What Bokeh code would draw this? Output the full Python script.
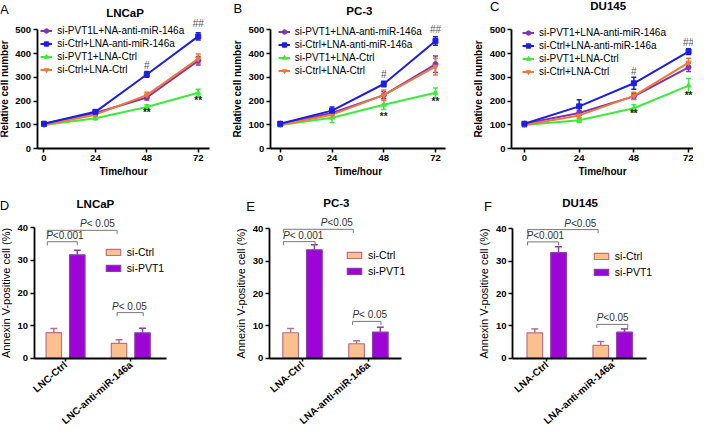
from bokeh.plotting import figure
from bokeh.layouts import row, column
from bokeh.models import (ColumnDataSource, Whisker, TeeHead, Label, Legend,
                          LegendItem, FixedTicker, Range1d)
from bokeh.embed import file_html
from bokeh.resources import INLINE

FONT = "Liberation Sans"

# ---------------- data: growth curves ----------------
hours = [0, 24, 48, 72]
hour_ticks = [0, 24, 48, 72]
cell_ticks = [0, 100, 200, 300, 400, 500]

labels_A = ["si-PVT1L+NA-anti-miR-146a", "si-Ctrl+LNA-anti-miR-146a",
            "si-PVT1+LNA-Ctrl", "si-Ctrl+LNA-Ctrl"]
labels_BC = ["si-PVT1+LNA-anti-miR-146a", "si-Ctrl+LNA-anti-miR-146a",
             "si-PVT1+LNA-Ctrl", "si-Ctrl+LNA-Ctrl"]

A_purple = [105, 150, 215, 370]
A_purple_err = [8, 10, 10, 18]
A_blue = [105, 155, 312, 472]
A_blue_err = [8, 8, 12, 15]
A_green = [100, 128, 175, 235]
A_green_err = [6, 6, 10, 15]
A_orange = [100, 143, 225, 378]
A_orange_err = [6, 8, 12, 20]
A_sig_x = [72, 48, 48, 72]
A_sig_y = [528, 350, 154, 201]
A_sig_text = ["##", "#", "**", "**"]

B_purple = [105, 150, 225, 355]
B_purple_err = [8, 10, 15, 35]
B_blue = [105, 160, 272, 453]
B_blue_err = [8, 15, 12, 18]
B_green = [100, 130, 185, 235]
B_green_err = [6, 20, 20, 20]
B_orange = [100, 143, 225, 345]
B_orange_err = [8, 12, 22, 35]
B_sig_x = [72, 48, 48, 72]
B_sig_y = [499, 310, 135, 200]
B_sig_text = ["##", "#", "**", "**"]

C_purple = [105, 150, 220, 342]
C_purple_err = [8, 10, 12, 18]
C_blue = [105, 178, 275, 408]
C_blue_err = [8, 28, 25, 12]
C_green = [100, 120, 170, 265]
C_green_err = [8, 10, 15, 30]
C_orange = [100, 140, 222, 362]
C_orange_err = [8, 12, 15, 18]
C_sig_x = [72, 48, 48, 72]
C_sig_y = [448, 325, 147, 222]
C_sig_text = ["##", "#", "**", "**"]

# ---------------- data: apoptosis bars ----------------
groups_D = ["LNC-Ctrl", "LNC-anti-miR-146a"]
groups_EF = ["LNA-Ctrl", "LNA-anti-miR-146a"]
bar_legend = ["si-Ctrl", "si-PVT1"]
pct_ticks = [0, 10, 20, 30, 40]

D_ctrl = [7.9, 4.6]
D_ctrl_err = [1.2, 1.1]
D_pvt1 = [31.7, 7.8]
D_pvt1_err = [1.4, 1.4]
D_br_x0 = [0.72, 0.72, 1.79]
D_br_x1 = [1.79, 1.18, 2.19]
D_br_y = [39.2, 35.7, 14.0]
D_p_x = [1.51, 0.99, 2.00]
D_p_text = [" < 0.05", "<0.001", " < 0.05"]

E_ctrl = [7.9, 4.5]
E_ctrl_err = [1.3, 0.9]
E_pvt1 = [33.5, 8.1]
E_pvt1_err = [1.5, 1.5]
E_br_x0 = [0.71, 0.71, 1.76]
E_br_x1 = [1.77, 1.19, 2.19]
E_br_y = [39.8, 36.0, 11.4]
E_p_x = [1.52, 1.01, 2.02]
E_p_text = ["<0.05", "< 0.001", "< 0.05"]

F_ctrl = [7.9, 4.0]
F_ctrl_err = [1.2, 1.2]
F_pvt1 = [32.7, 8.1]
F_pvt1_err = [1.8, 1.0]
F_br_x0 = [0.71, 0.71, 1.76]
F_br_x1 = [1.78, 1.18, 2.23]
F_br_y = [39.8, 36.0, 10.5]
F_p_x = [1.51, 0.98, 2.00]
F_p_text = ["<0.05", "<0.001", "<0.05"]

# ---------------- styles / layout ----------------
line_colors = ["#8433B2", "#1E1EE0", "#3DEB3D", "#F07838"]
markers = ["circle", "square", "triangle", "inverted_triangle"]
ctrl_fill, ctrl_line = "#FAC08E", "#B8708C"
pvt_fill, pvt_line = "#9C05D6", "#8A40A8"
CHAR_W = {"<": 5.84, "0": 5.56, ".": 2.78, "5": 5.56, "1": 5.56, " ": 2.78}

# page geometry: reference-picture pixels are mapped onto the 693x430 area
SX, SY = 693 / 701, 430 / 441
RX0, RY0 = 2, 4
COL_OFF = [0, 231, 464]
COL_W = [231, 233, 229]
ROW_OFF = [0, 188]
ROW_H = [188, 242]


def lx(rx, col):
    return (rx - RX0) * SX - COL_OFF[col]


def ly(ry, r):
    return (ry - RY0) * SY - ROW_OFF[r]


def frame_range(d0, p0, d1, p1, size):
    s = (p1 - p0) / (d1 - d0)
    return Range1d(d0 - p0 / s, d0 + (size - p0) / s)


def inv(p0, d0, p1, d1, px):
    s = (p1 - p0) / (d1 - d0)
    return d0 + (px - p0) / s


def base_fig(Wd, H, xr, yr):
    p = figure(width=Wd, height=H, output_backend="svg", toolbar_location=None,
               x_range=xr, y_range=yr, min_border=0, min_border_left=0,
               min_border_right=0, min_border_top=0, min_border_bottom=0)
    p.title.visible = False
    p.grid.visible = False
    p.outline_line_color = None
    p.background_fill_color = "white"
    p.border_fill_color = "white"
    for ax in (p.xaxis[0], p.yaxis[0]):
        ax.axis_line_width = 1.8
        ax.axis_line_color = "black"
        ax.major_tick_line_width = 1.5
        ax.major_tick_line_color = "black"
        ax.major_tick_in = 0
        ax.major_tick_out = 4
        ax.minor_tick_line_color = None
        ax.major_label_text_font = FONT
        ax.major_label_text_font_style = "bold"
        ax.major_label_text_font_size = "9.5px"
        ax.major_label_text_color = "black"
        ax.major_label_standoff = 2
        ax.axis_label_text_font = FONT
        ax.axis_label_standoff = 3
        ax.axis_label_text_color = "black"
    return p


def add_text(p, H, text, x, y, size, style, color="black"):
    p.add_layout(Label(x=x, y=H - y, x_units="screen", y_units="screen", text=text,
                       text_font=FONT, text_font_size=size, text_font_style=style,
                       text_color=color, text_align="center", text_baseline="middle"))


def line_panel(col, title, title_ref, letter, letter_ref, series, errs, labels,
               sig, geo, leg_ref):
    Wd, H = COL_W[col], ROW_H[0]
    x0r, x72r, yaxr, xendr = geo
    x0p, x72p = lx(x0r, col), lx(x72r, col)
    y0p, y500p = ly(156, 0), ly(34, 0)
    xr = frame_range(0, x0p, 72, x72p, Wd)
    yr = frame_range(0, H - y0p, 500, H - y500p, H)
    p = base_fig(Wd, H, xr, yr)
    xax = inv(x0p, 0, x72p, 72, lx(yaxr, col))
    xend = inv(x0p, 0, x72p, 72, lx(xendr, col))
    p.yaxis.fixed_location = xax
    p.xaxis.fixed_location = 0
    p.yaxis.bounds = (0, 500)
    p.xaxis.bounds = (xax, xend)
    p.xaxis.ticker = FixedTicker(ticks=hour_ticks)
    p.yaxis.ticker = FixedTicker(ticks=cell_ticks)
    p.xaxis.axis_label = "Time/hour"
    p.yaxis.axis_label = "Relative cell number"
    p.xaxis.axis_label_text_font_style = "bold"
    p.yaxis.axis_label_text_font_style = "bold"
    p.xaxis.axis_label_text_font_size = "10px"
    p.yaxis.axis_label_text_font_size = "10px"
    p.xaxis.axis_label_standoff = 2

    items = [None] * 4
    for i in [0, 2, 3, 1]:
        vals, err = series[i], errs[i]
        src = ColumnDataSource(dict(x=hours, y=vals,
                                    lo=[v - e for v, e in zip(vals, err)],
                                    hi=[v + e for v, e in zip(vals, err)]))
        c = line_colors[i]
        p.add_layout(Whisker(source=src, base="x", upper="hi", lower="lo",
                             line_color=c, line_width=1.5,
                             upper_head=TeeHead(size=5, line_color=c, line_width=1.5),
                             lower_head=TeeHead(size=5, line_color=c, line_width=1.5)))
        lr = p.line("x", "y", source=src, line_color=c, line_width=2)
        sr = p.scatter("x", "y", source=src, marker=markers[i], size=5,
                       fill_color=c, line_color=c)
        items[i] = LegendItem(label=labels[i], renderers=[lr, sr])
    gx, r1 = lx(leg_ref[0], col), ly(leg_ref[1], 0)
    leg_h = 4 * 11 + 3 * 2
    leg = Legend(items=items, location=(gx, H - (r1 - 5.5 + leg_h)),
                 label_text_font=FONT, label_text_font_size="10px",
                 label_text_color="black", glyph_width=12, glyph_height=11,
                 label_height=11, spacing=2, padding=0, margin=0, label_standoff=5,
                 border_line_color=None, background_fill_alpha=0)
    p.add_layout(leg)
    sx, sy, st = sig
    for x, y, t in zip(sx, sy, st):
        p.add_layout(Label(x=x, y=y, text=t, text_font=FONT, text_font_size="10px",
                           text_color="#222" if t == "**" else "#555",
                           text_font_style="bold" if t == "**" else "normal",
                           text_align="center", text_baseline="middle"))
    add_text(p, H, title, lx(title_ref[0], col), ly(title_ref[1], 0), "11.5px", "bold")
    add_text(p, H, letter, lx(letter_ref[0], col), ly(letter_ref[1], 0), "13px",
             "normal")
    return p


def bar_panel(col, title, title_ref, letter, letter_ref, groups, ctrl, ctrl_err,
              pvt, pvt_err, br_x0, br_x1, br_y, p_x, p_text, geo, leg_ref):
    Wd, H = COL_W[col], ROW_H[1]
    g1r, g2r, yaxr, xendr, y0r, y40r = geo
    g1p, g2p = lx(g1r, col), lx(g2r, col)
    y0p, y40p = ly(y0r, 1), ly(y40r, 1)
    xr = frame_range(1, g1p, 2, g2p, Wd)
    yr = frame_range(0, H - y0p, 40, H - y40p, H)
    p = base_fig(Wd, H, xr, yr)
    xax = inv(g1p, 1, g2p, 2, lx(yaxr, col))
    xend = inv(g1p, 1, g2p, 2, lx(xendr, col))
    p.yaxis.fixed_location = xax
    p.xaxis.fixed_location = 0
    p.yaxis.bounds = (0, 40)
    p.xaxis.bounds = (xax, xend)
    p.xaxis.ticker = FixedTicker(ticks=[1, 2])
    p.xaxis.major_label_overrides = {1: groups[0], 2: groups[1]}
    p.xaxis.major_label_orientation = 0.7156
    p.xaxis.major_label_text_font_size = "10px"
    p.xaxis.major_tick_out = 3
    p.yaxis.ticker = FixedTicker(ticks=pct_ticks)
    p.yaxis.axis_label = "Annexin V-positive cell (%)"
    p.yaxis.axis_label_text_font_style = "normal"
    p.yaxis.axis_label_text_font_size = "11px"

    pos = [1, 2]
    src_c = ColumnDataSource(dict(x=[g - 0.18 for g in pos], top=ctrl,
                                  hi=[v + e for v, e in zip(ctrl, ctrl_err)]))
    src_p = ColumnDataSource(dict(x=[g + 0.18 for g in pos], top=pvt,
                                  hi=[v + e for v, e in zip(pvt, pvt_err)]))
    for src, lc in ((src_c, ctrl_line), (src_p, pvt_line)):
        p.add_layout(Whisker(source=src, base="x", upper="hi", lower="top",
                             line_color=lc, line_width=1.5,
                             upper_head=TeeHead(size=7, line_color=lc, line_width=1.5),
                             lower_head=None, level="underlay"))
    rc = p.vbar(x="x", top="top", width=0.237, source=src_c, fill_color=ctrl_fill,
                line_color=ctrl_line, line_width=1.2)
    rp = p.vbar(x="x", top="top", width=0.237, source=src_p, fill_color=pvt_fill,
                line_color=pvt_line, line_width=1.2)
    gx, r1 = lx(leg_ref[0], col), ly(leg_ref[1], 1)
    leg_h = 2 * 12 + 4
    leg = Legend(items=[LegendItem(label=bar_legend[0], renderers=[rc]),
                        LegendItem(label=bar_legend[1], renderers=[rp])],
                 location=(gx, H - (r1 - 6 + leg_h)), label_text_font=FONT,
                 label_text_font_size="10.5px", label_text_color="black",
                 glyph_width=18, glyph_height=8, label_height=12, spacing=4,
                 padding=0, margin=0, label_standoff=5, border_line_color=None,
                 background_fill_alpha=0)
    p.add_layout(leg)

    p.multi_line(xs=[[a, a, b, b] for a, b in zip(br_x0, br_x1)],
                 ys=[[y - 1.1, y, y, y - 1.1] for y in br_y],
                 line_color="#777777", line_width=1)
    for x, y, t in zip(p_x, br_y, p_text):
        w_rest = sum(CHAR_W.get(c, 5.56) for c in t)
        total = 6.67 + w_rest
        off = -total / 2 + 6.67
        p.add_layout(Label(x=x, y=y, x_offset=off, y_offset=1, text="P",
                           text_font=FONT, text_font_size="10px",
                           text_font_style="italic", text_color="#333",
                           text_align="right", text_baseline="bottom"))
        p.add_layout(Label(x=x, y=y, x_offset=off, y_offset=1, text=t,
                           text_font=FONT, text_font_size="10px",
                           text_color="#333", text_align="left",
                           text_baseline="bottom"))
    add_text(p, H, title, lx(title_ref[0], col), ly(title_ref[1], 1), "11.5px", "bold")
    add_text(p, H, letter, lx(letter_ref[0], col), ly(letter_ref[1], 1), "13px",
             "normal")
    return p


pA = line_panel(0, "LNCaP", (128, 16.7), "A", (6, 13),
                [A_purple, A_blue, A_green, A_orange],
                [A_purple_err, A_blue_err, A_green_err, A_orange_err],
                labels_A, (A_sig_x, A_sig_y, A_sig_text),
                (46, 202, 39, 213), (42.7, 35))
pB = line_panel(1, "PC-3", (365, 15), "B", (242, 12.7),
                [B_purple, B_blue, B_green, B_orange],
                [B_purple_err, B_blue_err, B_green_err, B_orange_err],
                labels_BC, (B_sig_x, B_sig_y, B_sig_text),
                (285, 442, 275, 452), (283, 36.7))
pC = line_panel(2, "DU145", (616.7, 9.8), "C", (502, 10.5),
                [C_purple, C_blue, C_green, C_orange],
                [C_purple_err, C_blue_err, C_green_err, C_orange_err],
                labels_BC, (C_sig_x, C_sig_y, C_sig_text),
                (532, 698, 519, 703), (530, 37.7))
pD = bar_panel(0, "LNCaP", (98, 213), "D", (6, 214), groups_D, D_ctrl, D_ctrl_err,
               D_pvt1, D_pvt1_err, D_br_x0, D_br_x1, D_br_y, D_p_x, D_p_text,
               (67.8, 133.8, 36, 170, 371, 237), (107, 262))
pE = bar_panel(1, "PC-3", (341.7, 211.7), "E", (255, 215), groups_EF, E_ctrl,
               E_ctrl_err, E_pvt1, E_pvt1_err, E_br_x0, E_br_x1, E_br_y, E_p_x,
               E_p_text, (307.5, 374.2, 274, 408, 371, 238), (351, 266))
pF = bar_panel(2, "DU145", (588.3, 211.7), "F", (495, 215), groups_EF, F_ctrl,
               F_ctrl_err, F_pvt1, F_pvt1_err, F_br_x0, F_br_x1, F_br_y, F_p_x,
               F_p_text, (554.5, 621.2, 520, 655, 371, 238.3), (600.7, 266.7))

layout = column(row(pA, pB, pC), row(pD, pE, pF))
open("out.html", "w").write(file_html(layout, INLINE))
